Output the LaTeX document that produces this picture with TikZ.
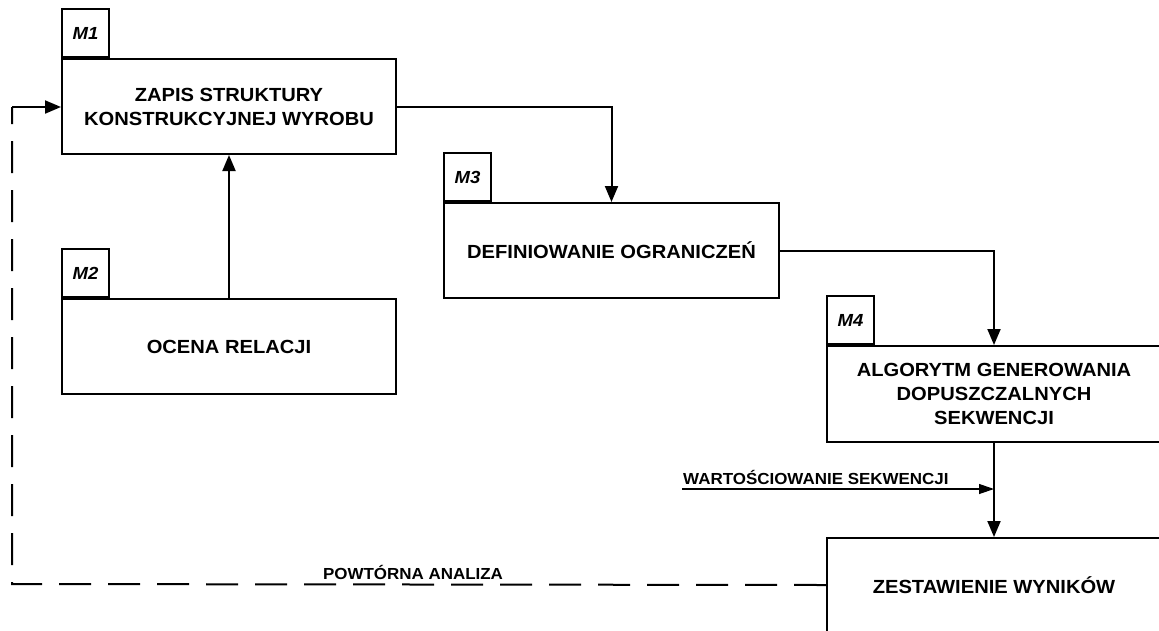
\documentclass[tikz,border=0pt]{standalone}
\usepackage{fontspec}
\setmainfont{Liberation Sans}[FakeStretch=1.06]
\usetikzlibrary{arrows.meta}
\begin{document}
\begin{tikzpicture}[x=1pt,y=-1pt,
  box/.style={draw,line width=2pt,anchor=north west,inner sep=0pt,align=center,
    font=\bfseries\fontsize{19pt}{24pt}\selectfont},
  tab/.style={draw,line width=2pt,anchor=south west,minimum width=47pt,minimum height=48pt,
    inner sep=0pt,font=\bfseries\itshape\fontsize{17.5pt}{19pt}\selectfont},
  arr/.style={line width=2pt,-{Triangle[length=16pt,width=13pt]}},
  thinarr/.style={line width=1.2pt,-{Triangle[length=15pt,width=10pt]}},
  lab/.style={font=\bfseries\fontsize{16pt}{18pt}\selectfont,inner sep=0pt},
  dsh/.style={line width=2pt,dash pattern=on 32pt off 17pt}]
\useasboundingbox (0,0) rectangle (1159,630);
\node[box,minimum width=334pt,minimum height=95pt] (m1) at (61,58) {ZAPIS STRUKTURY\\KONSTRUKCYJNEJ WYROBU};
\node[box,minimum width=334pt,minimum height=95pt] (m2) at (61,298) {OCENA RELACJI};
\node[box,minimum width=335pt,minimum height=95pt] (m3) at (443,202) {DEFINIOWANIE OGRANICZEŃ};
\node[box,minimum width=334pt,minimum height=96pt] (m4) at (826,345) {ALGORYTM GENEROWANIA\\DOPUSZCZALNYCH\\SEKWENCJI};
\node[box,minimum width=334pt,minimum height=94pt] (m5) at (826,537) {ZESTAWIENIE WYNIKÓW};
\node[tab] (t1) at (m1.north west) {M1};
\node[tab] (t2) at (m2.north west) {M2};
\node[tab] (t3) at (m3.north west) {M3};
\node[tab] (t4) at (m4.north west) {M4};
\draw[arr] (m2.north) -- (m1.south);
\draw[arr] (m1.east) -| (m3.north);
\draw[arr] (m3.east) -| (m4.north);
\draw[arr] (m4.south) -- (m5.north);
\coordinate (w) at (682,489);
\draw[thinarr] (w) -- (w -| m4.south);
\node[lab,anchor=west] (wl) at (683,477) {WARTOŚCIOWANIE SEKWENCJI};
\coordinate (c1) at (12,584);
\coordinate (c2) at (12,107);
\draw[dsh] (m5.west) -- (c1) -- (c2);
\draw[arr] (c2) -- (c2 -| m1.west);
\node[lab] (pl) at (413,572.5) {POWTÓRNA ANALIZA};
\end{tikzpicture}
\end{document}
